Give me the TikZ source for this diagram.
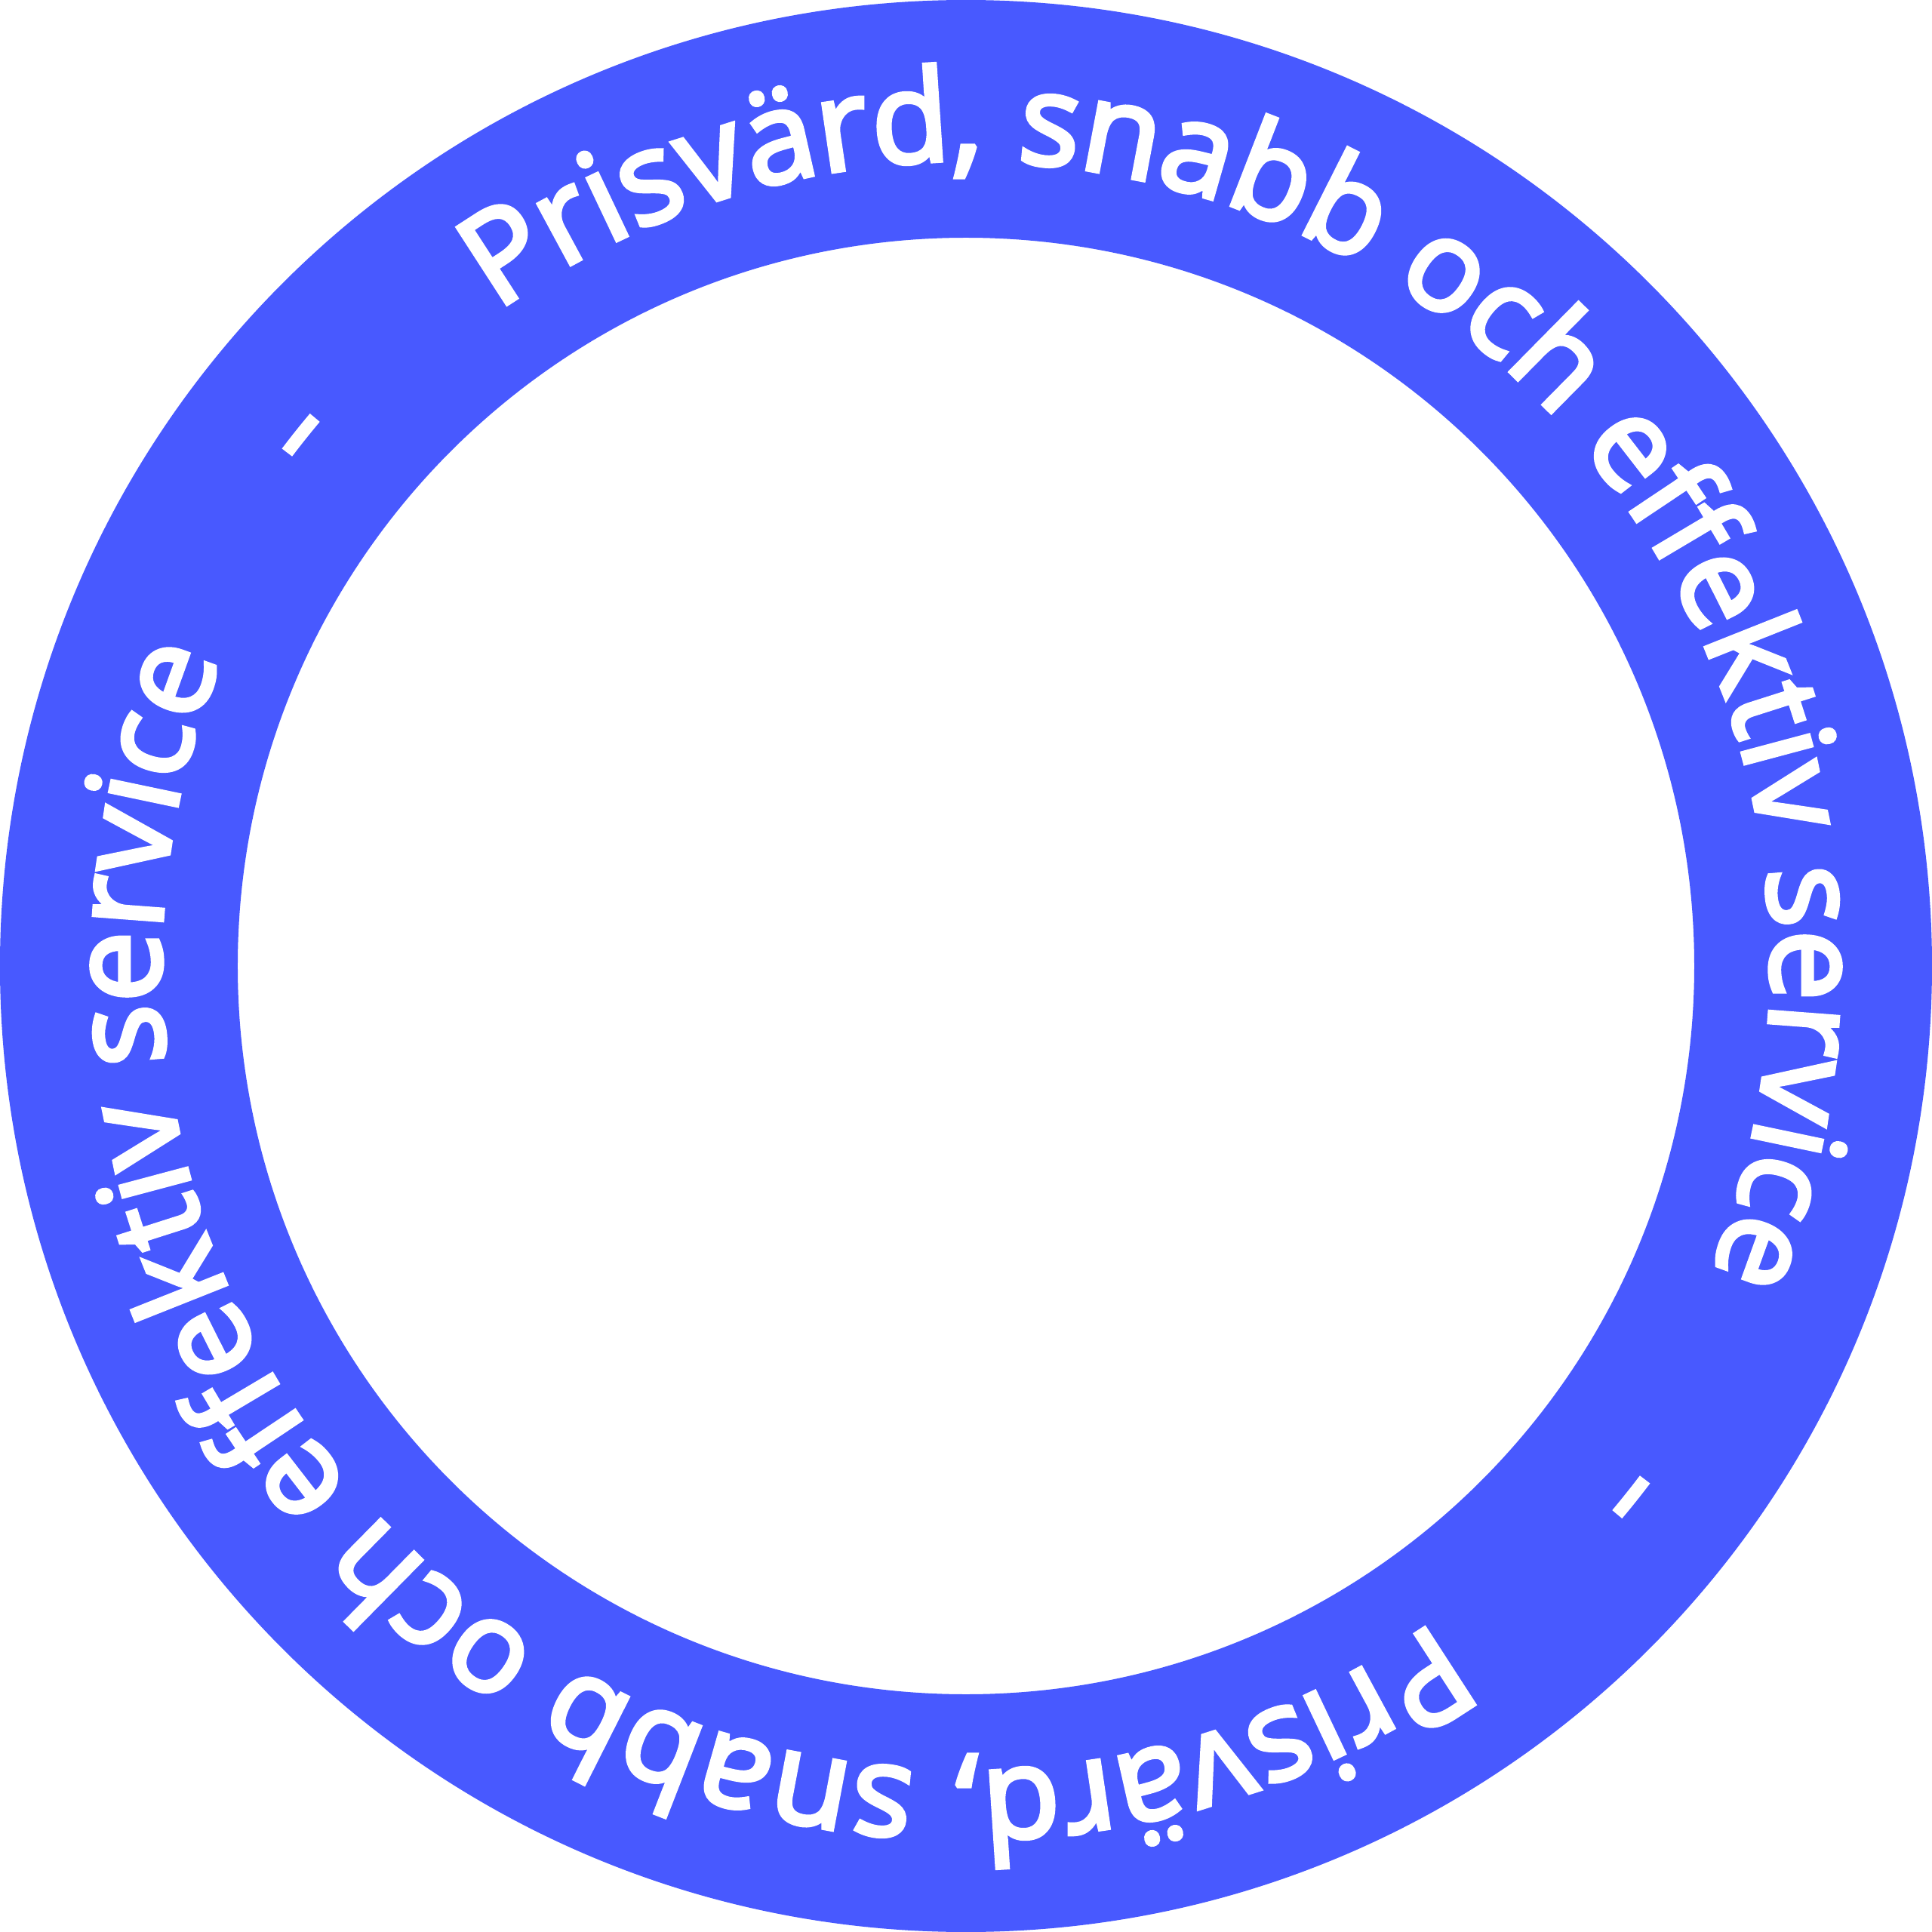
\documentclass[tikz,border=0pt]{standalone}
\usepackage{fontspec}
\newfontfamily\badgefont{Open Sans}[FakeBold=3.5]
\usetikzlibrary{decorations.text}

\definecolor{badgeblue}{RGB}{72,89,255}

\begin{document}
\begin{tikzpicture}[
    ringtext/.style={decorate, decoration={text along path, text align=left,
        text={|\badgefont\fontsize{48}{50}\selectfont\color{white}|Prisvärd, snabb och effektiv service}}},
    sep/.style={white, line width=1.7mm}
  ]
    \useasboundingbox (-12.8, -12.8) rectangle (12.8, 12.8);

    % Ring
    \fill[badgeblue, even odd rule] (0, 0) circle (12.8) (0, 0) circle (9.65);

    % Slogan, twice round the ring
    \foreach \a in {125.6, -54.4} {
        \path[ringtext] (\a:10.67) arc[start angle=\a, end angle=\a-170, radius=10.67];
    }

    % Dashes between the two
    \foreach \a in {141.4, -38.6} {
        \draw[sep] (\a+1.5:11.28) arc[start angle=\a+1.5, end angle=\a-1.5, radius=11.28];
    }

\end{tikzpicture}
\end{document}
